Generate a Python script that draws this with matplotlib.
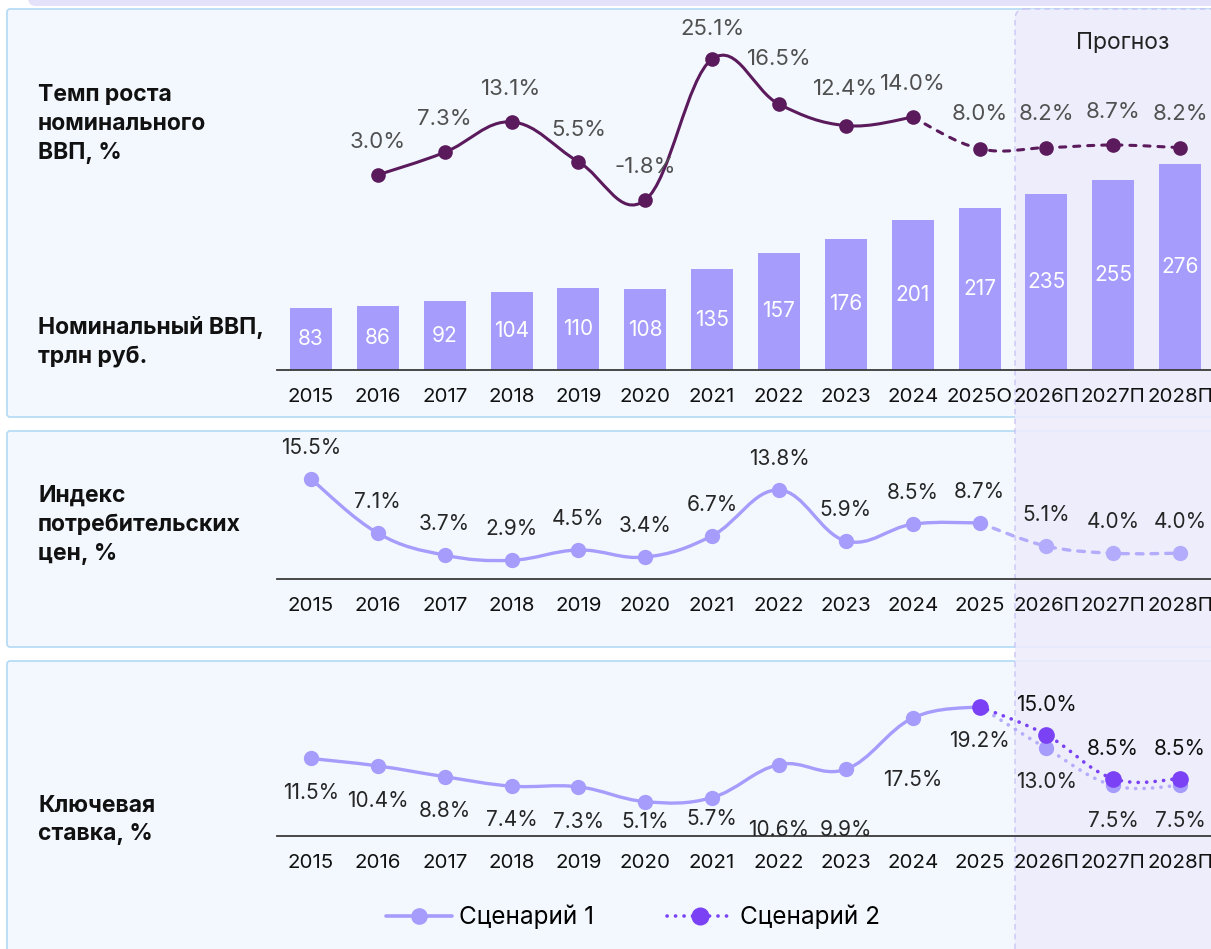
import numpy as np
import matplotlib.pyplot as plt
from matplotlib.path import Path
from matplotlib.patches import PathPatch, FancyBboxPatch
from matplotlib.lines import Line2D

plt.rcParams['font.family'] = ['Inter', 'DejaVu Sans']

# ---------------- данные ----------------
years = ['2015', '2016', '2017', '2018', '2019', '2020', '2021', '2022', '2023',
         '2024', '2025', '2026П', '2027П', '2028П']
years_top = years[:10] + ['2025О', '2026П', '2027П', '2028П']
gdp = [83, 86, 92, 104, 110, 108, 135, 157, 176, 201, 217, 235, 255, 276]
gdp_growth = [3.0, 7.3, 13.1, 5.5, -1.8, 25.1, 16.5, 12.4, 14.0, 8.0, 8.2, 8.7, 8.2]  # 2016..2028
cpi = [15.5, 7.1, 3.7, 2.9, 4.5, 3.4, 6.7, 13.8, 5.9, 8.5, 8.7, 5.1, 4.0, 4.0]
rate_s1 = [11.5, 10.4, 8.8, 7.4, 7.3, 5.1, 5.7, 10.6, 9.9, 17.5, 19.2, 13.0, 7.5, 7.5]
rate_s2 = [19.2, 15.0, 8.5, 8.5]  # 2025..2028
scenarios = ['Сценарий 1', 'Сценарий 2']

# ---------------- стиль ----------------
DARK = '#5a1a5c'
LAV = '#a59cfc'
LAV_F = '#b3acfc'
VIO = '#7a42f4'
W, H = 1211, 949
STEP = 66.85          # пикселей между годами
X0, X1 = 277, 1211    # границы осей по x


def smooth_path(ax, xs, ys, k=0.19):
    # catmull-rom -> безье, считаем в пикселях
    pts = ax.transData.transform(np.column_stack([xs, ys]))
    n = len(pts)
    verts = [pts[0]]
    codes = [Path.MOVETO]
    for i in range(n - 1):
        p0 = pts[max(i - 1, 0)]
        p1 = pts[i]
        p2 = pts[i + 1]
        p3 = pts[min(i + 2, n - 1)]
        verts += [p1 + (p2 - p0) * k, p2 - (p3 - p1) * k, p2]
        codes += [Path.CURVE4] * 3
    verts = ax.transData.inverted().transform(np.array(verts))
    return Path(verts, codes)


def draw_curve(ax, xs, ys, **kw):
    ax.add_patch(PathPatch(smooth_path(ax, xs, ys), fill=False, capstyle='round',
                           joinstyle='round', **kw))


def add_ax(top, bottom):
    ax = fig.add_axes([X0 / W, 1 - bottom / H, (X1 - X0) / W, (bottom - top) / H])
    ax.set_facecolor('none')
    ax.set_xlim(-(311 - X0) / STEP, (X1 - 311) / STEP)
    for s in ['top', 'left', 'right', 'bottom']:
        ax.spines[s].set_visible(False)
    ax.set_yticks([])
    ax.tick_params(length=0)
    return ax


def base_axis(ax, labels):
    ax.spines['bottom'].set_visible(True)
    ax.spines['bottom'].set_color('#3a3a3a')
    ax.spines['bottom'].set_linewidth(1.3)
    ax.set_xticks(range(len(labels)))
    ax.set_xticklabels(labels, fontsize=14.8, color='#111111')
    ax.tick_params(axis='x', length=0, pad=13)


fig = plt.figure(figsize=(W / 100, H / 100), dpi=100)

# фон: панели и область прогноза
bg = fig.add_axes([0, 0, 1, 1], zorder=-1)
bg.set_xlim(0, W)
bg.set_ylim(H, 0)
bg.axis('off')
bg.add_patch(FancyBboxPatch((28, -12), 1220, 18, boxstyle='round,pad=0,rounding_size=8',
                            fc='#e4e1fa', ec='none'))
for top, h in [(9, 408), (431, 216), (661, 320)]:
    bg.add_patch(FancyBboxPatch((7, top), 1240, h, boxstyle='round,pad=0,rounding_size=3',
                                fc='#f3f8fe', ec='#b2daf5', lw=1.2))
bg.add_patch(FancyBboxPatch((1015, 9), 230, 980, boxstyle='round,pad=0,rounding_size=10',
                            fc='#eeecfb', alpha=0.85, ec='#c3bdf3', lw=1.0, ls=(0, (4, 3))))
bg.text(1123, 43, 'Прогноз', ha='center', va='center', fontsize=16.5, color='#222222')

titles = [(124, 'Темп роста\nноминального\nВВП, %'),
          (342, 'Номинальный ВВП,\nтрлн руб.'),
          (525, 'Индекс\nпотребительских\nцен, %'),
          (820, 'Ключевая\nставка, %')]
for yc, t in titles:
    bg.text(38, yc, t, ha='left', va='center', fontsize=16.5, fontweight='bold',
            color='#111111', linespacing=1.4)

# ---------------- ВВП: столбцы ----------------
axb = add_ax(9, 370)
axb.set_ylim(0, (370 - 9) / 0.747)
base_axis(axb, years_top)
x = np.arange(len(years))
axb.bar(x, gdp, width=42 / STEP, color=LAV, zorder=2)
for i, v in enumerate(gdp):
    axb.text(i, v / 2, str(v), ha='center', va='center', color='white', fontsize=15)

# ---------------- ВВП: темп роста ----------------
axl = add_ax(9, 370)
axl.set_ylim(-(370 - 190.6) / 5.24, (190.6 - 9) / 5.24)
axl.set_xticks([])
xg = np.arange(1, 14)
draw_curve(axl, xg[:9], gdp_growth[:9], ec=DARK, lw=2.2, zorder=3)
draw_curve(axl, xg[8:], gdp_growth[8:], ec=DARK, lw=2.2, ls=(0, (2.0, 2.6)), zorder=3)
axl.plot(xg, gdp_growth, 'o', ms=9.5, color=DARK, zorder=4)
g_off = [33, 33, 33, 32, 33, 30, 45, 37, 33, 35, 34, 33, 34]
for xi, v, o in zip(xg, gdp_growth, g_off):
    axl.annotate(f'{v:.1f}%', (xi, v), xytext=(0, o * 0.72), textcoords='offset points',
                 ha='center', va='center', fontsize=16, color='#505050')

# ---------------- ИПЦ ----------------
ax2 = add_ax(432, 579)
ax2.set_ylim(0, (579 - 432) / 6.45)
base_axis(ax2, years)
draw_curve(ax2, x[:11], cpi[:11], ec=LAV, lw=2.4, zorder=3)
draw_curve(ax2, x[10:], cpi[10:], ec=LAV_F, lw=2.4, ls=(0, (2.0, 2.4)), zorder=3)
ax2.plot(x[:11], cpi[:11], 'o', ms=10, color=LAV, zorder=4)
ax2.plot(x[11:], cpi[11:], 'o', ms=10, color=LAV_F, zorder=4)
for xi, v in zip(x, cpi):
    ax2.annotate(f'{v:.1f}%', (xi, v), xytext=(0, 31 * 0.72), textcoords='offset points',
                 ha='center', va='center', fontsize=15, color='#262626')

# ---------------- Ключевая ставка ----------------
ax3 = add_ax(662, 836)
ax3.set_ylim(0, (836 - 662) / 6.74)
base_axis(ax3, years)
draw_curve(ax3, x[:11], rate_s1[:11], ec=LAV, lw=2.4, zorder=3)
draw_curve(ax3, x[10:], rate_s1[10:], ec=LAV_F, lw=2.6, ls=(0, (0.05, 2.3)), zorder=3)
draw_curve(ax3, x[10:], rate_s2, ec=VIO, lw=2.6, ls=(0, (0.05, 2.3)), zorder=5)
ax3.plot(x, rate_s1, 'o', ms=10, color=LAV, zorder=4)
ax3.plot(x[10:], rate_s2, 'o', ms=11, color=VIO, zorder=6)
r_off = [-35, -35, -34, -34, -35, -20, -21, -65, -61, -62, -34, -34, -36, -36]
for xi, v, o in zip(x, rate_s1, r_off):
    ax3.annotate(f'{v:.1f}%', (xi, v), xytext=(0, o * 0.72), textcoords='offset points',
                 ha='center', va='center', fontsize=15, color='#262626')
for xi, v in zip(x[11:], rate_s2[1:]):
    ax3.annotate(f'{v:.1f}%', (xi, v), xytext=(0, 30 * 0.72), textcoords='offset points',
                 ha='center', va='center', fontsize=15, color='#111111')

handles = [Line2D([], [], color=LAV, lw=2.6, marker='o', ms=11, solid_capstyle='round'),
           Line2D([], [], color=VIO, lw=2.6, ls=(0, (0.05, 2.3)), dash_capstyle='round',
                  marker='o', ms=12)]
fig.legend(handles, scenarios, loc='center', bbox_to_anchor=(633 / W, 1 - 917 / H), ncol=2,
           frameon=False, fontsize=17.5, handlelength=2.7, columnspacing=3.0,
           handletextpad=0.3)

fig.savefig('out.png', dpi=100)
